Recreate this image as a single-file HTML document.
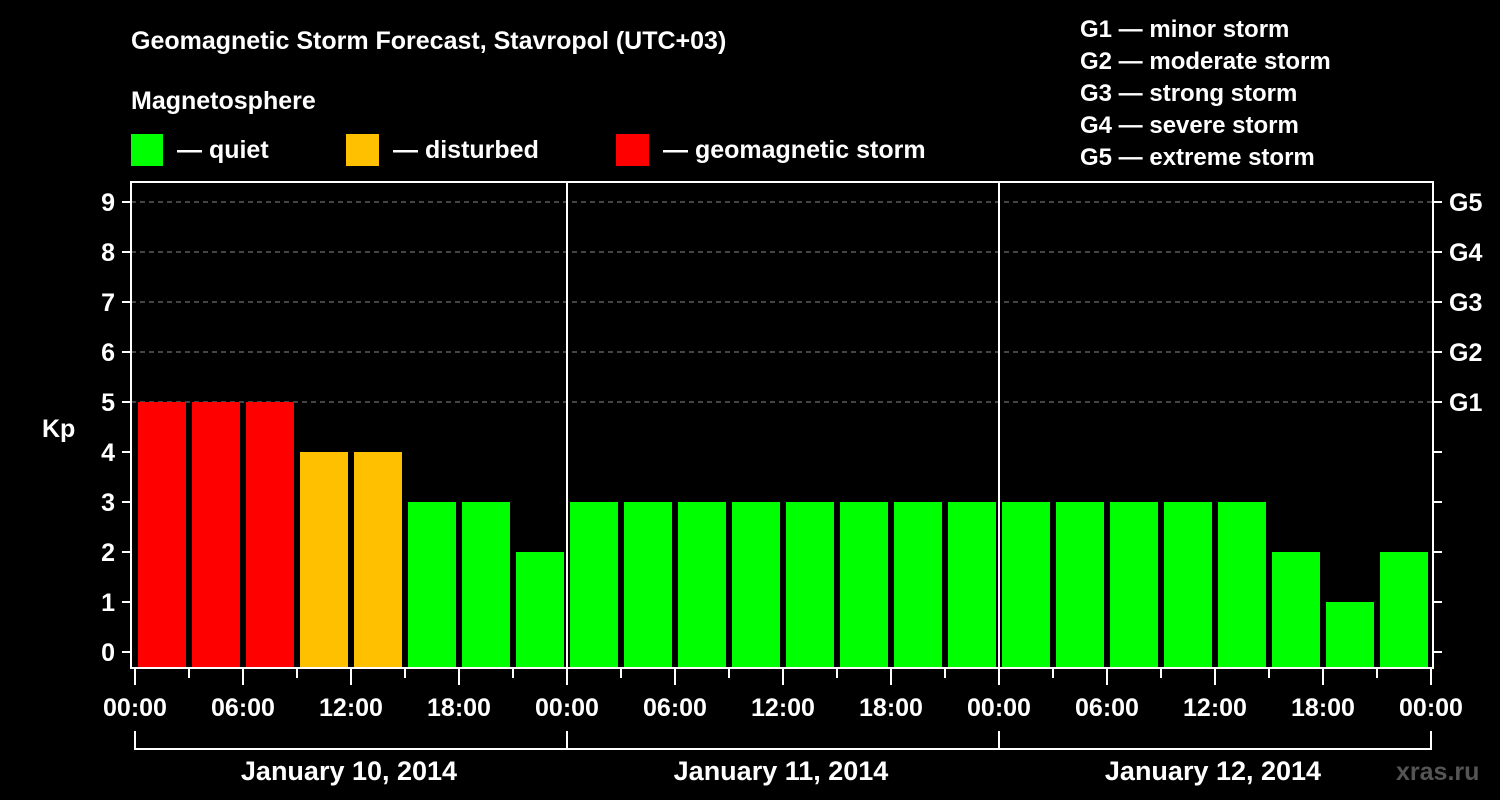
<!DOCTYPE html>
<html><head><meta charset="utf-8"><style>
html,body{margin:0;padding:0;background:#000;}
svg{display:block;font-family:"Liberation Sans",sans-serif;font-weight:bold;}
</style></head><body>
<svg id="chart" width="1500" height="800" xmlns="http://www.w3.org/2000/svg">
<rect width="1500" height="800" fill="#000"/>
<text x="131" y="49" fill="#fff" font-size="25">Geomagnetic Storm Forecast, Stavropol (UTC+03)</text>
<text x="131" y="109" fill="#fff" font-size="25">Magnetosphere</text>
<g><rect x="131" y="134" width="32" height="32" fill="#00ff00"/><text x="177" y="158" fill="#fff" font-size="25">— quiet</text></g>
<g><rect x="346" y="134" width="33" height="32" fill="#ffc000"/><text x="393" y="158" fill="#fff" font-size="25">— disturbed</text></g>
<g><rect x="616" y="134" width="33" height="32" fill="#ff0000"/><text x="663" y="158" fill="#fff" font-size="25">— geomagnetic storm</text></g>
<g fill="#fff" font-size="24">
<text x="1080" y="37">G1 — minor storm</text>
<text x="1080" y="69">G2 — moderate storm</text>
<text x="1080" y="101">G3 — strong storm</text>
<text x="1080" y="133">G4 — severe storm</text>
<text x="1080" y="165">G5 — extreme storm</text>
</g>
<text x="42" y="437" fill="#fff" font-size="25">Kp</text>
<g id="grid"></g><g id="bars"></g><g id="axes"></g>
<text x="1396" y="780" fill="#555" font-size="25">xras.ru</text>
</svg>
<script>
const values=[5,5,5,4,4,3,3,2, 3,3,3,3,3,3,3,3, 3,3,3,3,3,2,1,2];
const days=["January 10, 2014","January 11, 2014","January 12, 2014"];
const hourLabels=["00:00","06:00","12:00","18:00"];
const yTicks=[0,1,2,3,4,5,6,7,8,9];
const gLabels=["G1","G2","G3","G4","G5"];
const NS="http://www.w3.org/2000/svg";
const x0=135,dayW=432,plotL=131,plotR=1433,plotT=182,plotB=668;
const xH=h=>x0+h*dayW/24;
const yK=v=>652-v*50;
function mk(p,tag,at){const e=document.createElementNS(NS,tag);for(const k in at)e.setAttribute(k,at[k]);p.appendChild(e);return e;}
const grid=document.getElementById('grid'),bars=document.getElementById('bars'),axes=document.getElementById('axes');
yTicks.forEach(v=>{if(v>=5){const l=mk(grid,'line',{x1:plotL,x2:plotR,y1:yK(v),y2:yK(v),stroke:'#888','stroke-dasharray':'5,4','stroke-width':1});

}});
values.forEach((v,i)=>{const c=v>=5?'#ff0000':v==4?'#ffc000':'#00ff00';
const r=mk(bars,'rect',{x:xH(i*3)+3,y:yK(v),width:dayW/8-6,height:plotB-yK(v),fill:c});

});
const fr=mk(axes,'rect',{x:plotL,y:plotT,width:plotR-plotL,height:plotB-plotT,fill:'none',stroke:'#fff','stroke-width':2});


[1,2].forEach(d=>{const l=mk(axes,'line',{x1:x0+d*dayW,x2:x0+d*dayW,y1:plotT,y2:plotB,stroke:'#fff','stroke-width':2});

});
yTicks.forEach(v=>{mk(axes,'line',{x1:122,x2:plotL,y1:yK(v),y2:yK(v),stroke:'#fff','stroke-width':2});
mk(axes,'line',{x1:plotR,x2:1442,y1:yK(v),y2:yK(v),stroke:'#fff','stroke-width':2});
const t=mk(axes,'text',{x:115,y:yK(v)+9,fill:'#fff','font-size':25,'text-anchor':'end'});t.textContent=v;

});
gLabels.forEach((g,i)=>{const t=mk(axes,'text',{x:1449,y:yK(5+i)+9,fill:'#fff','font-size':25});t.textContent=g;

});
for(let h=0;h<=72;h+=3){const big=h%6==0;mk(axes,'line',{x1:xH(h),x2:xH(h),y1:plotB,y2:big?685:678,stroke:'#fff','stroke-width':2});
if(big){const t=mk(axes,'text',{x:xH(h),y:716,fill:'#fff','font-size':25,'text-anchor':'middle'});t.textContent=hourLabels[(h/6)%4];

}}
mk(axes,'line',{x1:x0,x2:x0+3*dayW,y1:749,y2:749,stroke:'#fff','stroke-width':2});
for(let d=0;d<=3;d++)mk(axes,'line',{x1:x0+d*dayW,x2:x0+d*dayW,y1:731,y2:750,stroke:'#fff','stroke-width':2});
days.forEach((s,d)=>{const t=mk(axes,'text',{x:x0+d*dayW+dayW/2-2,y:780,fill:'#fff','font-size':27,'text-anchor':'middle'});t.textContent=s;

});
</script>
</body></html>
